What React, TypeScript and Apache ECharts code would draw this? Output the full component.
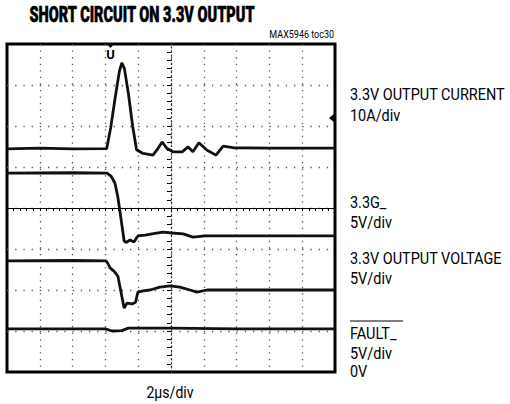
import React, { useEffect, useRef } from "react";
import * as echarts from "echarts";

// Oscilloscope screen: 10 x 8 divisions, centred on 0
const xDivRange = [-5, 5];
const yDivRange = [-4, 4];

// Trace values in divisions [time div, amplitude div]
const currentTrace = [
  [-5, 1.44], [-4, 1.46], [-3, 1.44], [-1.96, 1.45], [-1.84, 1.95], [-1.7, 2.7],
  [-1.57, 3.35], [-1.5, 3.54], [-1.42, 3.4], [-1.3, 2.8], [-1.17, 2.0], [-1.05, 1.42],
  [-0.85, 1.33], [-0.55, 1.29], [-0.4, 1.45], [-0.27, 1.61], [-0.12, 1.45], [0.06, 1.37],
  [0.34, 1.37], [0.52, 1.49], [0.67, 1.37], [0.85, 1.59], [1.1, 1.41], [1.37, 1.29],
  [1.59, 1.51], [1.89, 1.47], [3, 1.46], [5, 1.46],
];
const gateTrace = [
  [-5, 0.85], [-3, 0.86], [-1.95, 0.85], [-1.83, 0.78], [-1.71, 0.61], [-1.62, 0.27],
  [-1.52, -0.29], [-1.43, -0.8], [-1.37, -0.84], [-1.25, -0.78], [-1.13, -0.83],
  [-1.01, -0.68], [-0.79, -0.66], [-0.49, -0.62], [-0.24, -0.59], [0.03, -0.61],
  [0.37, -0.63], [0.67, -0.71], [1.04, -0.68], [3, -0.68], [5, -0.68],
];
const voltageTrace = [
  [-5, -1.29], [-3, -1.28], [-1.98, -1.29], [-1.92, -1.36], [-1.86, -1.46], [-1.74, -1.54],
  [-1.62, -1.66], [-1.43, -2.44], [-1.34, -2.32], [-1.19, -2.34], [-1.08, -2.3],
  [-1.01, -2.05], [-0.85, -2.02], [-0.64, -2.0], [-0.34, -1.93], [-0.03, -1.9],
  [0.27, -1.93], [0.58, -2.0], [0.79, -2.05], [1.1, -2.0], [3, -2.0], [5, -2.0],
];
const faultTrace = [
  [-5, -2.95], [-2.0, -2.95], [-1.8, -3.0], [-1.5, -2.99], [-1.3, -2.93], [0, -2.93],
  [2, -2.95], [5, -2.95],
];

const titleText = "SHORT CIRCUIT ON 3.3V OUTPUT";
const tocText = "MAX5946 toc30";
const xAxisLabel = "2\u03bcs/div";
const channelLabels = [
  { text: "3.3V OUTPUT CURRENT", y: 94 },
  { text: "10A/div", y: 115 },
  { text: "3.3G_", y: 202 },
  { text: "5V/div", y: 222 },
  { text: "3.3V OUTPUT VOLTAGE", y: 258 },
  { text: "5V/div", y: 278 },
  { text: "FAULT_", y: 333 },
  { text: "5V/div", y: 353 },
  { text: "0V", y: 371 },
];

const FONT = "'Liberation Sans Narrow', 'Roboto', 'Liberation Sans', sans-serif";

export default function App() {
  const ref = useRef<HTMLDivElement>(null);
  useEffect(() => {
    const chart = echarts.init(ref.current!, null, { renderer: "svg" });
    const traceSeries = (data: number[][]) => ({
      type: "line",
      data,
      showSymbol: false,
      symbol: "none",
      lineStyle: { color: "#111", width: 2.8 },
      z: 5,
    });
    chart.setOption({
      animation: false,
      backgroundColor: "#fff",
      grid: {
        left: 7,
        top: 44,
        width: 328,
        height: 328,
        show: true,
        borderColor: "#000",
        borderWidth: 3,
        backgroundColor: "transparent",
      },
      xAxis: {
        type: "value",
        min: xDivRange[0],
        max: xDivRange[1],
        interval: 1,
        axisLabel: { show: false },
        axisLine: { show: true, onZero: true, lineStyle: { color: "#000", width: 1.2 } },
        axisTick: { show: true, length: 3, lineStyle: { color: "#000" } },
        minorTick: { show: true, splitNumber: 5, length: 3, lineStyle: { color: "#000" } },
        splitLine: {
          show: true,
          showMinLine: false,
          showMaxLine: false,
          lineStyle: { color: "#555", width: 1.3, type: [1.3, 5.26] },
        },
      },
      yAxis: {
        type: "value",
        min: yDivRange[0],
        max: yDivRange[1],
        interval: 1,
        axisLabel: { show: false },
        axisLine: { show: true, onZero: true, lineStyle: { color: "#333", width: 1.2, type: [1.3, 2.8] } },
        axisTick: { show: true, length: 4, lineStyle: { color: "#000" } },
        minorTick: { show: true, splitNumber: 5, length: 4, lineStyle: { color: "#000" } },
        splitLine: {
          show: true,
          showMinLine: false,
          showMaxLine: false,
          lineStyle: { color: "#555", width: 1.3, type: [1.3, 6.9] },
        },
      },
      series: [
        traceSeries(currentTrace),
        traceSeries(gateTrace),
        traceSeries(voltageTrace),
        traceSeries(faultTrace),
      ],
      graphic: [
        {
          type: "text",
          x: 142,
          y: 15,
          scaleX: 0.66,
          style: {
            text: titleText,
            fill: "#000",
            fontSize: 22,
            fontWeight: 900,
            fontFamily: FONT,
            stroke: "#000",
            lineWidth: 0.6,
            align: "center",
            verticalAlign: "middle",
          },
        },
        {
          type: "text",
          x: 334,
          y: 34,
          scaleX: 0.9,
          style: {
            text: tocText,
            fill: "#000",
            fontSize: 10,
            fontFamily: FONT,
            align: "right",
            verticalAlign: "middle",
          },
        },
        {
          type: "text",
          x: 170,
          y: 393,
          scaleX: 0.88,
          style: {
            text: xAxisLabel,
            fill: "#000",
            fontSize: 16,
            fontFamily: FONT,
            align: "center",
            verticalAlign: "middle",
          },
        },
        ...channelLabels.map((l) => ({
          type: "text",
          x: 350,
          y: l.y,
          scaleX: 0.85,
          style: {
            text: l.text,
            fill: "#000",
            fontSize: 17,
            fontFamily: FONT,
            align: "left",
            verticalAlign: "middle",
          },
        })),
        {
          type: "line",
          shape: { x1: 350, y1: 321, x2: 403, y2: 321 },
          style: { stroke: "#000", lineWidth: 1 },
        },
        {
          type: "polygon",
          shape: { points: [[107, 44], [114, 44], [110.5, 48]] },
          style: { fill: "#000" },
        },
        {
          type: "text",
          x: 110.5,
          y: 54,
          style: {
            text: "U",
            fill: "#000",
            fontSize: 13,
            fontWeight: "bold",
            fontFamily: FONT,
            align: "center",
            verticalAlign: "middle",
          },
        },
        {
          type: "polygon",
          shape: { points: [[335, 113], [329, 118], [335, 123]] },
          style: { fill: "#000" },
        },
      ],
    });
    return () => chart.dispose();
  }, []);
  return (
    <div
      ref={ref}
      style={{ position: "fixed", left: 0, top: 0, width: 510, height: 404, background: "#fff" }}
    />
  );
}
